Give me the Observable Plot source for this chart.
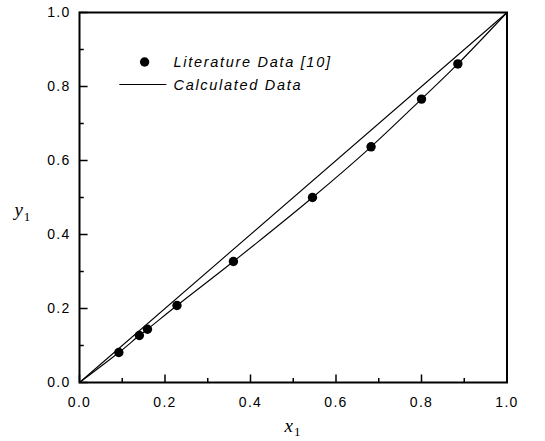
<!DOCTYPE html>
<html><head><meta charset="utf-8">
<script src="https://cdn.jsdelivr.net/npm/d3@7"></script>
<script src="https://cdn.jsdelivr.net/npm/@observablehq/plot@0.6"></script>
<style>
body{margin:0;background:#fff;}
#wrap{position:relative;width:545px;height:441px;}
#wrap svg.overlay{position:absolute;left:0;top:0;}
</style></head>
<body><div id="wrap"></div>
<script>
const litX = [0.092, 0.140, 0.159, 0.228, 0.360, 0.545, 0.682, 0.800, 0.885];
const litY = [0.081, 0.127, 0.144, 0.208, 0.327, 0.500, 0.637, 0.766, 0.861];
const calcX = [0, 0.092, 0.140, 0.159, 0.228, 0.360, 0.545, 0.682, 0.800, 0.885, 1.0];
const calcY = [0, 0.081, 0.127, 0.144, 0.208, 0.327, 0.500, 0.637, 0.766, 0.861, 1.0];
const diagX = [0, 1];
const majorTicks = [0, 0.2, 0.4, 0.6, 0.8, 1.0];
const minorTicks = [0.1, 0.3, 0.5, 0.7, 0.9];
const legendLabels = ["Literature Data [10]", "Calculated Data"];

const lit = litX.map((x, i) => ({x, y: litY[i]}));
const calc = calcX.map((x, i) => ({x, y: calcY[i]}));
const diag = diagX.map(x => ({x, y: x}));
const noText = () => "";

const chart = Plot.plot({
  width: 545, height: 441,
  marginLeft: 79, marginRight: 38.5, marginTop: 12, marginBottom: 59,
  style: {fontFamily: '"Liberation Sans", Arial, sans-serif', fontSize: "14px", color: "#000", background: "#fff", letterSpacing: "1.3px"},
  x: {domain: [0, 1]},
  y: {domain: [0, 1]},
  marks: [
    Plot.axisX({ticks: majorTicks, tickSize: 0, tickPadding: 15, tickFormat: d3.format(".1f"), fontSize: 14, label: null}),
    Plot.axisY({ticks: majorTicks, tickSize: 0, tickPadding: 9, tickFormat: d3.format(".1f"), fontSize: 14, label: null}),
    // inward tick marks
    Plot.axisX({ticks: majorTicks, tickSize: -7.5, tickFormat: noText, strokeWidth: 1.5, label: null}),
    Plot.axisX({ticks: minorTicks, tickSize: -4, tickFormat: noText, strokeWidth: 1.5, label: null}),
    Plot.axisY({ticks: majorTicks, tickSize: -8.6, tickFormat: noText, strokeWidth: 1.5, label: null}),
    Plot.axisY({ticks: minorTicks, tickSize: -4.8, tickFormat: noText, strokeWidth: 1.5, label: null}),
    Plot.line(diag, {x: "x", y: "y", stroke: "#000", strokeWidth: 1.1}),
    Plot.line(calc, {x: "x", y: "y", stroke: "#000", strokeWidth: 1.1, curve: "catmull-rom"}),
    Plot.dot(lit, {x: "x", y: "y", r: 4.7, fill: "#000", stroke: "none"}),
    Plot.frame({stroke: "#000", strokeWidth: 2})
  ]
});
const wrap = document.getElementById("wrap");
wrap.appendChild(chart);

// overlay for legend and axis labels
const ns = "http://www.w3.org/2000/svg";
const ov = document.createElementNS(ns, "svg");
ov.setAttribute("class", "overlay");
ov.setAttribute("width", 545); ov.setAttribute("height", 441);
wrap.appendChild(ov);
function el(tag, attrs, text) {
  const e = document.createElementNS(ns, tag);
  for (const k in attrs) e.setAttribute(k, attrs[k]);
  if (text != null) e.textContent = text;
  ov.appendChild(e);
  return e;
}
const legFont = {"font-family": '"Liberation Sans", Arial, sans-serif', "font-style": "italic", "font-size": 14.5, "letter-spacing": 1.7, fill: "#000"};
el("ellipse", {cx: 144.6, cy: 62, rx: 4.7, ry: 4.7, fill: "#000"});
el("text", {...legFont, x: 173.5, y: 67.2}, legendLabels[0]);
el("line", {x1: 119.3, x2: 166.4, y1: 84.5, y2: 84.5, stroke: "#000", "stroke-width": 1.1});
el("text", {...legFont, x: 173.5, y: 90.2}, legendLabels[1]);

const serif = {"font-family": '"Liberation Serif", "Times New Roman", serif', fill: "#000"};
const xl = el("text", {...serif, x: 284.5, y: 432, "font-size": 19});
xl.innerHTML = '<tspan font-style="italic">x</tspan><tspan font-size="13" dx="1" dy="4">1</tspan>';
const yl = el("text", {...serif, x: 14.4, y: 216, "font-size": 19});
yl.innerHTML = '<tspan font-style="italic">y</tspan><tspan font-size="13" dx="1" dy="5">1</tspan>';
</script></body></html>
